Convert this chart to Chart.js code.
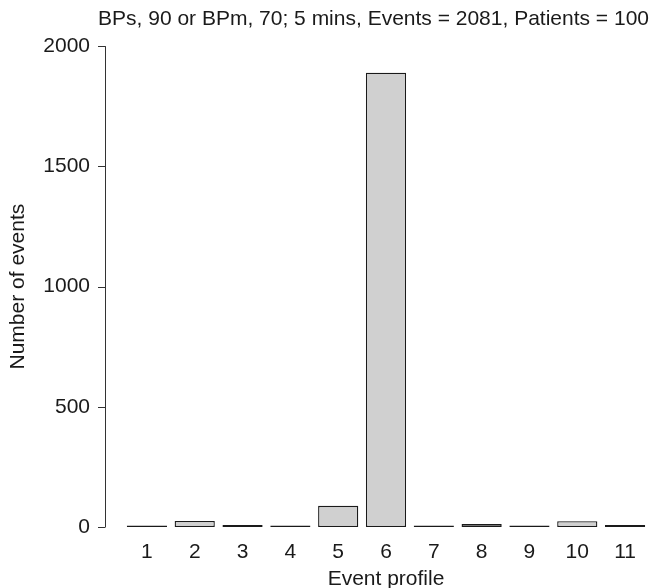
<!DOCTYPE html>
<html>
<head>
<meta charset="utf-8">
<script src="https://cdn.jsdelivr.net/npm/chart.js@4"></script>
<style>
  html, body { margin: 0; padding: 0; background: #fff; }
  #wrap { width: 652px; height: 588px; }
</style>
</head>
<body>
<div id="wrap"><canvas id="chart-bar"></canvas></div>
<script>
const profiles = ['1', '2', '3', '4', '5', '6', '7', '8', '9', '10', '11'];
const events = [0, 25, 8, 0, 88, 1890, 0, 12, 0, 24, 8];
const yTicks = [0, 500, 1000, 1500, 2000];
const titleText = 'BPs, 90 or BPm, 70; 5 mins, Events = 2081, Patients = 100';

Chart.defaults.font.family = '"Liberation Sans", Arial, sans-serif';
Chart.defaults.font.size = 21;
Chart.defaults.color = '#1a1a1a';

// R-style y axis: a detached line with ticks, a little left of the bars
const rAxis = {
  id: 'rAxis',
  afterDraw(chart) {
    const c = chart.ctx;
    const y = chart.scales.y;
    const x0 = Math.round(chart.chartArea.left - 18);
    c.save();
    c.strokeStyle = '#333';
    c.lineWidth = 1;
    c.beginPath();
    c.moveTo(x0 + 0.5, y.getPixelForValue(yTicks[0]));
    c.lineTo(x0 + 0.5, y.getPixelForValue(yTicks[yTicks.length - 1]));
    yTicks.forEach(function (t) {
      const py = Math.round(y.getPixelForValue(t)) + 0.5;
      c.moveTo(x0 + 0.5, py);
      c.lineTo(x0 - 7, py);
    });
    c.stroke();
    c.restore();
  }
};

document.addEventListener("DOMContentLoaded", function () {
  const ctx = document.getElementById('chart-bar');

  new Chart(ctx, {
    type: 'bar',
    data: {
      labels: profiles,
      datasets: [{
        data: events,
        backgroundColor: '#d0d0d0',
        borderColor: '#1a1a1a',
        borderWidth: 1.3,
        borderSkipped: false,
        minBarLength: 1.5,
        barPercentage: 0.84,
        categoryPercentage: 1
      }]
    },
    options: {
      responsive: true,
      maintainAspectRatio: false,
      animation: false,
      layout: { padding: { top: 0, right: 3, bottom: 0, left: 0 } },
      plugins: {
        legend: { display: false },
        tooltip: { enabled: false },
        title: {
          display: true,
          text: titleText,
          align: 'end',
          font: { weight: 'normal' },
          padding: { top: 7, bottom: 14 }
        }
      },
      scales: {
        x: {
          afterFit: function (scale) { scale.height = 61; },
          grid: { display: false, drawTicks: false },
          border: { display: false },
          ticks: { padding: 13, maxRotation: 0 },
          title: { display: true, text: 'Event profile', padding: { top: 0, bottom: -4 } }
        },
        y: {
          min: 0,
          max: 2000,
          afterFit: function (scale) { scale.width = 123; },
          afterBuildTicks: function (axis) {
            axis.ticks = yTicks.map(function (v) { return { value: v }; });
          },
          grid: { display: false, drawTicks: false },
          border: { display: false },
          ticks: {
            padding: 33,
            callback: function (v) { return String(v); }
          },
          title: { display: true, text: 'Number of events', padding: { top: 6, bottom: 0 } }
        }
      }
    },
    plugins: [rAxis]
  });
});
</script>
</body>
</html>
